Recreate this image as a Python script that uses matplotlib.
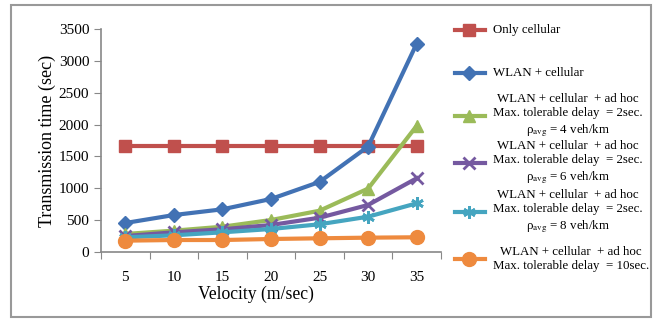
import matplotlib
matplotlib.use("Agg")
import matplotlib.pyplot as plt
from matplotlib.patches import Rectangle
from matplotlib.lines import Line2D

plt.rcParams['font.family'] = ['Liberation Serif', 'DejaVu Serif']
plt.rcParams['mathtext.fontset'] = 'stix'

# 資料
velocity = [5, 10, 15, 20, 25, 30, 35]
only_cellular = [1670, 1670, 1670, 1670, 1670, 1670, 1670]
wlan_cellular = [455, 580, 670, 832, 1100, 1655, 3270]
adhoc_rho4 = [283, 335, 397, 502, 648, 995, 1980]
adhoc_rho6 = [250, 309, 356, 424, 538, 738, 1157]
adhoc_rho8 = [230, 262, 309, 361, 435, 554, 764]
adhoc_10sec = [178, 188, 188, 204, 215, 225, 231]

labels = [
    "Only cellular",
    "WLAN + cellular",
    "WLAN + cellular  + ad hoc\nMax. tolerable delay  = 2sec.\nρ$_{\\rm avg}$ = 4 veh/km",
    "WLAN + cellular  + ad hoc\nMax. tolerable delay  = 2sec.\nρ$_{\\rm avg}$ = 6 veh/km",
    "WLAN + cellular  + ad hoc\nMax. tolerable delay  = 2sec.\nρ$_{\\rm avg}$ = 8 veh/km",
    "WLAN + cellular  + ad hoc\nMax. tolerable delay  = 10sec.",
]
# 圖例每一列的垂直位置 (像素, 由上往下)
legend_rows = [30, 73, 116, 163, 212, 259]

W, H = 662, 320
fig = plt.figure(figsize=(W / 100, H / 100), dpi=100)
fig.patches.append(Rectangle((0.017, 0.008), 0.966, 0.975, transform=fig.transFigure,
                             fill=False, edgecolor="#999999", linewidth=1.5))
ax = fig.add_axes([0.1526, 0.2125, 0.5135, 0.697])

x = list(range(len(velocity)))
series = [
    (only_cellular, "#C0504D", "s", 9),
    (wlan_cellular, "#4272B4", "D", 7),
    (adhoc_rho4, "#9BBB59", "^", 9),
    (adhoc_rho6, "#7559A0", "x", 9),
    (adhoc_rho8, "#45A5C0", (6, 2, 0), 9),
    (adhoc_10sec, "#EE8A3E", "o", 10),
]
for (y, c, m, ms), lab, row in zip(series, labels, legend_rows):
    mew = 2 if m in ("x", (6, 2, 0)) else 1
    ax.plot(x, y, color=c, marker=m, markersize=ms, linewidth=3,
            markeredgewidth=mew, markeredgecolor=c, markerfacecolor=c)
    # 手動畫圖例
    yf = 1 - row / H
    fig.add_artist(Line2D([455 / W, 485 / W], [yf, yf], transform=fig.transFigure,
                          color=c, linewidth=3))
    fig.add_artist(Line2D([469 / W], [yf], transform=fig.transFigure, color=c,
                          marker=m, markersize=ms, markeredgewidth=mew,
                          markeredgecolor=c, markerfacecolor=c))
    fig.text(493 / W, yf, lab, ha="left", va="center", multialignment="center",
             fontsize=9.3, linespacing=1.3)

ax.set_xlim(-0.5, len(velocity) - 0.5)
ax.set_ylim(0, 3500)
ax.set_yticks(range(0, 3501, 500))
ax.set_xticks([i - 0.5 for i in range(len(velocity) + 1)])
ax.set_xticklabels([])
ax.set_xticks(x, minor=True)
ax.set_xticklabels([str(v) for v in velocity], minor=True)
ax.tick_params(axis='x', which='minor', length=0, pad=14, labelsize=11)
ax.tick_params(axis='x', which='major', length=5, direction='out', color="#888888")
ax.tick_params(axis='y', length=5, direction='out', color="#888888", labelsize=11)
for s in ("top", "right"):
    ax.spines[s].set_visible(False)
for s in ("left", "bottom"):
    ax.spines[s].set_color("#888888")
    ax.spines[s].set_linewidth(1.2)

ax.set_xlabel("Velocity (m/sec)", fontsize=12.7)
ax.xaxis.set_label_coords(0.456, -0.15)
ax.set_ylabel("Transmission time (sec)", fontsize=13, labelpad=2)

fig.savefig("out.png", dpi=100)
